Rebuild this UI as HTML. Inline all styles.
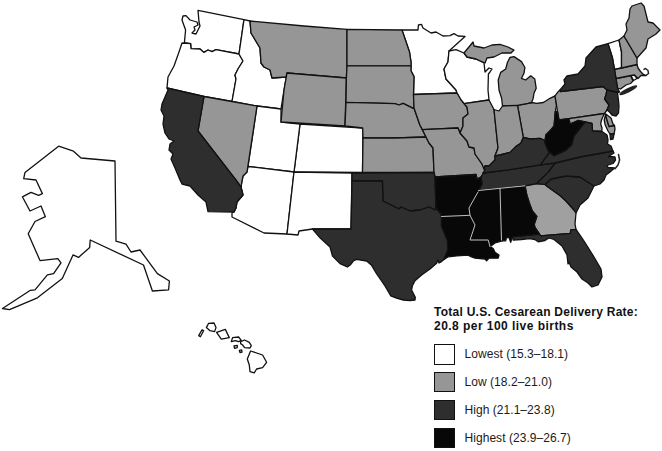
<!DOCTYPE html>
<html><head><meta charset="utf-8"><title>Cesarean delivery rate map</title>
<style>
html,body{margin:0;padding:0;background:#fff;}
body{width:662px;height:451px;overflow:hidden;position:relative;font-family:"Liberation Sans",sans-serif;color:#111;}
svg{position:absolute;left:0;top:0;display:block}
.t{position:absolute;white-space:nowrap;line-height:1;}
.b{font-weight:bold;font-size:12px;left:434px;}
.l{font-size:12px;left:464.5px;color:#1a1a1a;letter-spacing:0.05px}
.box{position:absolute;left:434px;width:18.6px;height:18.5px;border:1px solid #111;}
</style></head><body>
<svg width="662" height="451" viewBox="0 0 662 451">
<g stroke="#111" stroke-width="1.3" stroke-linejoin="round" stroke-linecap="round">
<polygon fill="#ffffff" points="198,10.4 244,19.6 239,54 216,49.6 212,51.6 208,50 204,52.4 200,49 191,48.6 190.6,43.6 184.4,42.6 185.6,30 182,20 183,16 186,15.6 190,20 197,22 198,25 194,27 195,30 192,33 196,34 198,30 200,26 199,22"/>
<polygon fill="#ffffff" points="182,43 190.6,43.6 191,48.6 200,49 204,52.4 208,50 212,51.6 216,49.6 239,54 243,61 238,69 235,75 236,79 232,101.5 204,96.5 167,88 168,77 174,66 179,52"/>
<polygon fill="#ffffff" points="244,19.6 250,21 251,33 260,48 261,63 264,67 270,70 272,78 286,77 287,73 284,90 281,109 257,106 232,101.5 236,79 235,75 238,69 243,61 239,54"/>
<polygon fill="#ffffff" points="300,124 363,128 362.5,172.5 294,172"/>
<polygon fill="#ffffff" points="257,106 281,109 281,122 300,124 294,172 248,166.5"/>
<polygon fill="#ffffff" points="248,166.5 294,172 287,234 264,233 232,217 232,213 234,212 236,208 237,202 243,195 241,187 242,181 243,176 247,172"/>
<polygon fill="#ffffff" points="294,172 352,173 351,229 312.5,229 299,231 298,235 287,234"/>
<polygon fill="#ffffff" points="402,30 418,30 418.4,25 421.6,24.4 423,28 431,33 436,32 443,36 450,35.6 454,33.6 458,36 465,36.4 449,51 448,62 444,69 446,79 456,90 457,93 413.5,94.5 414,76.6 411,70.8 411,65.8 411,62 409.5,52"/>
<polygon fill="#ffffff" points="631,75.5 634.5,75 637,78.5 633.5,80.5"/>
<polygon fill="#ffffff" points="608,43.6 619,40 621.5,52 621.5,68 614.5,69.5 612.5,58 610,50"/>
<polygon fill="#ffffff" points="449,51 456,49.6 464,53 467,57 476,59 484,63 485,72 489,68 492,69 490,72 488.4,74 488,90 489,100 464,103.6 461,100 457,93 456,90 446,79 444,69 448,62"/>
<polygon fill="#ffffff" points="58.6,146.2 73.5,151.2 81,158 115,161 116,241.2 126,244.2 131,252 140,250 157.4,273.6 169.4,281 168.6,289.8 152.4,291 143.5,265 90.2,240 89.7,247.4 78.5,257.4 73,254.9 62.3,278.6 37.4,297.8 9.5,309.7 2.5,308.5 30.4,290.3 35,289.8 47.4,274.8 53.6,273.6 61,262.9 57.8,258.6 40,260.6 28.2,233.7 35,221.5 45.4,216.7 41,206 30,211 22.4,196.8 31,192.3 38.6,195.3 42.4,193.6 36,180 23.7,178.6 25,172.4"/>
<polygon fill="#969696" points="204,96.5 232,101.5 257,106 247,172 243,176 242,181 241,187 198,131"/>
<polygon fill="#969696" points="250,21 304,26 347,29.4 347,65.8 346.4,78 287,73 286,77 272,78 270,70 264,67 261,63 260,48 251,33"/>
<polygon fill="#969696" points="287,73 346.4,78 345,126 281,122 284,90"/>
<polygon fill="#969696" points="347,29.4 402,30 409.5,52 411,62 411,65.8 347,65.8"/>
<polygon fill="#969696" points="347,65.8 411,65.8 411,70.8 414,76.6 413.5,94.5 414,108 413.2,108.3 403.2,103.3 399,105 394.9,103.6 346,102.4 346.4,78"/>
<polygon fill="#969696" points="346,102.4 394.9,103.6 399,105 403.2,103.3 413.2,108.3 414,108 419.9,125 422.4,129.6 426,137 396,138 363,138 362.7,128 345,126"/>
<polygon fill="#969696" points="363,138 396,138 426,137 429,143 433,148 434,172.5 362.5,172.5"/>
<polygon fill="#969696" points="413.5,94.5 457,93 461,100 467,107 468,114 463,118 463,126 460,133 458,128 422.4,129.6 419.9,125 414,108"/>
<polygon fill="#969696" points="422.4,129.6 458,128 460,133 467,141 469,147 474,148 475,154 482,164 485,170 483,174 481,177 477,179 476,174.5 435,177 434,172.5 433,148 429,143 426,137"/>
<polygon fill="#a0a0a0" points="525,185.8 536.6,183.6 545,184.4 548,187 560,195.5 566,201 574,210 576,213 575,224 576,229.3 570.8,229.8 570.3,233.3 540.6,235.8 539.5,234.2 534.8,227 534.3,224 536.8,216.5 532.3,211 529.3,203 526.8,195"/>
<polygon fill="#969696" points="517.5,105.3 528,103.3 531.6,102.5 536.6,103.3 543.3,102.5 550,98.3 555,95.8 556.5,105 555.3,111.6 554.1,125.8 550,130.8 545.8,135 545,140.5 540,138.3 530,139 523.3,137.4"/>
<polygon fill="#969696" points="555,95.8 558.2,91.7 560,90 560.5,91.5 603,86.5 607,90 606,95 604.6,99 609,105 607,110 604.5,113.5 569,118.6 559,120 557.5,111.6 556.5,105"/>
<polygon fill="#969696" points="616,78.5 630.5,75.5 633,81 630.5,83.5 626,85 620.5,89 617.5,88"/>
<polygon fill="#969696" points="614.5,69.5 621.5,68 637,64.5 638,68 640.5,71.5 643,74 646,75.5 641,75.5 640,76.5 638,78.5 634.5,75 631,75.5 616,78.5"/>
<polygon fill="#969696" points="619,40 624,36 637,58 637,64.5 621.5,68 621.5,52"/>
<polygon fill="#969696" points="624,36 627,30 626,24 629,18 630,9 632,6 641,3 644,6 648,22 653,23 660,30 656,34 648,39 646,48 637,58"/>
<polygon fill="#969696" points="507.4,62.5 509.9,57.5 514,56.6 521.5,61.6 524.9,67.5 524,73.3 521.5,78.3 525.7,80 530.7,75.8 534.8,79.1 536.2,88.3 534,93.2 533.2,98.2 531.6,102.5 528,103.3 517.5,105.3 502.5,106 501.6,98.2 499,90 498.2,80 500.7,72.4 505.7,69"/>
<polygon fill="#969696" points="464,53 473,42 474,46 484,48 492,45 500,44.4 508,47 514,50 511,53 502,53 494,57 487,58 485,63 476,59 467,57"/>
<polygon fill="#969696" points="464,103.6 489,100 494,109.5 498,148 495,156 495,160 489,166 485,166 484,169 482,164 475,154 474,148 469,147 467,141 460,133 463,126 463,118 468,114 467,107"/>
<polygon fill="#969696" points="494,109.5 499,111 502.5,106 517.5,105.3 523.3,137.4 520.8,143.2 515.8,146.6 510,152.4 500,155 495,156 498,148"/>
<polygon fill="#969696" points="569,118.6 604.5,113.5 603.5,115.5 601.5,120 600.7,124 602,128 601.8,131.5 592.5,131 592,123.5 585,122 578,120.5 570,124"/>
<polygon fill="#969696" points="605.2,116.5 605.4,114.8 609,126.5 614.5,125.5 615,129 614,134 610,134 608,131 605.2,125 604.2,120"/>
<polygon fill="#969696" points="605.4,113.8 611,118 613,124 614.5,125.5 609,126.5 605.4,114.8"/>
<polygon fill="#2e2e2e" points="167,88 204,96.5 198,131 236,180 241,187 243,195 237,202 236,208 234,212 208,211.6 206,202 198,195 190,186 182,184 180,180 175,168 171,159 173,154 169,150 170,144 174,141 169,139 165,133 163,124 164,116 161,110 162,104 168,90"/>
<polygon fill="#2e2e2e" points="352,173 434,172.5 435,177 436,208 435,210 429,207 420,210 410,211 401,207 399,209 383,201 382.4,181 352,181"/>
<polygon fill="#2e2e2e" points="352,181 382.4,181 383,201 399,209 401,207 410,211 420,210 429,207 435,210 436,208 441,214 441.6,216.5 441.5,226 447.5,240.8 447.8,250 444,259.5 441.5,261.6 439,263 438,260 436.6,263.3 430,269 421.6,275 415,280.8 412.4,285.8 411.6,290 415.3,297.4 415,300 410,300.7 403.3,300 396.6,298.2 390.8,295.8 385,286 376.7,274 371.6,265.3 366.6,261 356.6,259.4 353.3,261 350.8,264.4 347.4,267 340,263.6 332.5,256 330,247 320,237.8 312.5,229 351,229"/>
<polygon fill="#2e2e2e" points="512.4,236.8 539.5,234.2 540.6,235.8 570.3,233.3 570.8,229.8 576,229.3 584,241 594,257 601,269 602,277 598,285 592,287 588,283 582,279 577,272 571,267 569,262 568,264 567,255 562,246 554,239.5 549,238 545,240.5 538.2,241.8 534.8,239.5 529.8,238.6 521.5,239.5 513.2,240.2"/>
<polygon fill="#2e2e2e" points="545,184.4 551,179 566,176 580,177 594,186 588,198 580,205 576,213 574,210 566,201 560,195.5 548,187"/>
<polygon fill="#2e2e2e" points="555,163 580,157 613,151 614,153 608.5,156.5 615,157 615.5,160 613,163.5 607,165.5 608,167.5 614.5,168 610,172 606,175 604,180 600,184 594,186 580,177 566,176 551,179 545,184.4 536.6,183.6 540,180 548,172.4"/>
<polygon fill="#2e2e2e" points="483,173 510,169.6 540.5,164.8 555,163 548,172.4 540,180 536.6,183.6 525,185.8 500,188.3 478.5,190.5 478,192 482,184 481,177 483,174"/>
<polygon fill="#2e2e2e" points="484,169 485,166 489,166 495,160 495,156 500,155 510,152.4 515.8,146.6 520.8,143.2 523.3,137.4 530,139 540,138.3 545,140.5 545,143 548.3,150.7 549.5,152.5 540.5,164.8 510,169.6 483,173 485,170"/>
<polygon fill="#2e2e2e" points="540.5,164.8 549.5,152.5 554.1,155.7 565,150.7 571.5,145 574,135.8 580,128.3 585,122 592,123.5 592.5,131 602,131.5 607,135 608,140 607.5,144 611,146 612.5,150 613,151 580,157 555,163"/>
<polygon fill="#2e2e2e" points="560.5,91.5 560,90 565,84 564,80 567,76 578,74 585,66 586,58 596,47 608,43.6 610,50 612.5,58 614.5,69.5 616,78.5 617.5,88 619.5,92 617.5,92.5 607,90 603,86.5"/>
<polygon fill="#2e2e2e" points="607,90 617.5,92.5 618.6,101.6 619,106 618.5,113 616,116 612,115 609.5,112 607,110 609,105 604.6,99 606,95"/>
<polygon fill="#2e2e2e" points="610,134 614,134 613,139 610.5,139.5"/>
<polygon fill="#080808" points="435,177 476,174.5 477,179 481,177 482,184 478,192 469,208 470,215.3 441.6,216.5 441,214 436,208"/>
<polygon fill="#080808" points="441.6,216.5 470,215.3 475,225 470,240 488.2,240 490,246.6 493.2,248.6 495,252.4 499,255 498.2,258.2 489,258.2 486.6,260.7 485,259 475,258.2 470.8,256.6 468.3,255.2 456.6,255.9 448.3,256.8 444,259.5 447.8,250 447.5,240.8 441.5,226"/>
<polygon fill="#080808" points="478.5,190.5 500,188.3 501,240 502.4,240.8 495,243 490,246.6 488.2,240 470,240 475,225 470,215.3 469,208 478,192"/>
<polygon fill="#080808" points="500,188.3 525,185.8 526.8,195 529.3,203 532.3,211 536.8,216.5 534.3,224 534.8,227 539.5,234.2 512.4,236.8 510.7,242.4 509,237.6 506.5,237.6 505.7,240.8 502.4,240.8 501,240"/>
<polygon fill="#080808" points="555.3,111.6 557.5,111.6 559,120 569,118.6 570,124 578,120.5 585,122 580,128.3 574,135.8 571.5,145 565,150.7 554.1,155.7 548.3,150.7 545,143 545.8,135 550,130.8 554.1,125.8"/>
<polygon fill="#fff" points="202,329.9 203.6,330.7 200.4,336.7 198.7,335.6"/>
<polygon fill="#fff" points="208.6,323.3 214,323 216,327.6 214.6,331.6 210,330.7 206.4,327.6"/>
<polygon fill="#fff" points="216.6,332.3 225.3,329.4 229.3,337.6 221.3,339.2"/>
<polygon fill="#fff" points="232.6,337.6 238.6,337 241.3,340.3 238.6,341.6 235.3,340.6 231.3,341.6"/>
<polygon fill="#fff" points="234,346 237.3,345.4 237.3,347.6 234.6,348.3"/>
<polygon fill="#fff" points="240.6,341.6 244.6,340 249.3,342.3 251.3,345.6 250,348 244.6,347.6 242.6,345 240.6,343.6"/>
<polygon fill="#fff" points="239.3,350.3 241.7,349.9 242,352 240,352.5"/>
<polygon fill="#fff" points="250.6,351 262.6,355 266.6,362.3 262.6,367.6 256.6,369 254.2,372.9 250,371.6 249.3,365 247.3,359"/>
<polyline fill="none" stroke="#222" stroke-width="1.5" points="646,75.5 648.5,73.5 648,70.5 645.5,68.5 644,69.3"/>
<polyline fill="none" stroke="#222" stroke-width="1.5" points="618.5,154.5 619.6,160 618,165 615,168.8"/>
<ellipse cx="628.3" cy="90.2" rx="9.3" ry="1.5" fill="#222" stroke="#222" transform="rotate(-26 628.3 90.2)"/>
</g>
<g stroke="#bdbdbd" stroke-width="1" fill="none" stroke-linejoin="round" stroke-linecap="round"><polyline points="441.6,216.5 470,215.3"/><polyline points="478,192 469,208 470,215.3 475,225 470,240 488.2,240 490,246.6"/><polyline points="500,188.3 501.5,240"/><polyline points="478.5,190.5 500,188.3 525,185.8"/></g>
</svg>
<div class="t b" style="top:305.6px;letter-spacing:0.26px">Total U.S. Cesarean Delivery Rate:</div>
<div class="t b" style="top:319.6px;letter-spacing:0.46px">20.8 per 100 live births</div>
<div class="box" style="top:344px;background:#fff"></div>
<div class="box" style="top:371.7px;background:#969696"></div>
<div class="box" style="top:399.5px;background:#2e2e2e"></div>
<div class="box" style="top:427.6px;background:#080808"></div>
<div class="t l" style="top:347.9px">Lowest (15.3–18.1)</div>
<div class="t l" style="top:375.5px">Low (18.2–21.0)</div>
<div class="t l" style="top:403.5px">High (21.1–23.8)</div>
<div class="t l" style="top:431.5px">Highest (23.9–26.7)</div>
</body></html>
